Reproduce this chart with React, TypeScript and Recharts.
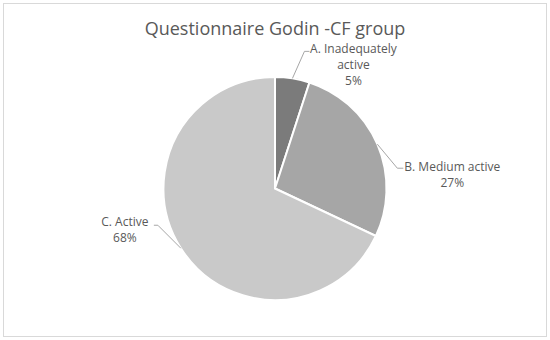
import React from "react";
import { PieChart, Pie, Cell } from "recharts";

const categories = ["A. Inadequately active", "B. Medium active", "C. Active"];
const values = [5, 27, 68];
const colors = ["#7b7b7b", "#a6a6a6", "#c9c9c9"];
const title = "Questionnaire Godin -CF group";

// label text lines (category name wrapped + percentage)
const labelBreaks = [["A. Inadequately", "active"], ["B. Medium active"], ["C. Active"]];

// leader-line/label layout relative to the slice edge point
const labelLayout = [
  { ex: 12, ey: -27, hx: 5, tx: 61, ty: -29, anchor: "middle" },
  { ex: 20, ey: 24, hx: 6, tx: 75, ty: 24, anchor: "middle" },
  { ex: -23, ey: -23, hx: -4, tx: -56, ty: -25, anchor: "middle" },
];

const data = categories.map((name, i) => ({ name, value: values[i] }));

const RAD = Math.PI / 180;

const renderLabel = (props: any) => {
  const { cx, cy, midAngle, outerRadius, percent, index } = props;
  const L = labelLayout[index];
  const sx = cx + outerRadius * Math.cos(-midAngle * RAD);
  const sy = cy + outerRadius * Math.sin(-midAngle * RAD);
  const mx = sx + L.ex;
  const my = sy + L.ey;
  const hx = mx + L.hx;
  const lines = [...labelBreaks[index], `${Math.round(percent * 100)}%`];
  const tx = sx + L.tx;
  const ty0 = sy + L.ty;
  return (
    <g>
      <polyline
        points={`${sx},${sy} ${mx},${my} ${hx},${my}`}
        fill="none"
        stroke="#a6a6a6"
        strokeWidth={1}
      />
      <text
        x={tx}
        y={ty0}
        textAnchor={L.anchor as any}
        fill="#595959"
        fontSize={12}
        fontFamily="'Open Sans', sans-serif"
      >
        {lines.map((ln, k) => (
          <tspan key={k} x={tx} y={ty0 + k * 16} dominantBaseline="middle">
            {ln}
          </tspan>
        ))}
      </text>
    </g>
  );
};

export default function App() {
  return (
    <div style={{ position: "absolute", left: 0, top: 0, width: 550, height: 340, background: "#fff" }}>
      <div
        style={{
          position: "absolute",
          left: 3,
          top: 3,
          width: 542,
          height: 332,
          border: "1px solid #d9d9d9",
        }}
      />
      <div
        style={{
          position: "absolute",
          left: 0,
          top: 17,
          width: 550,
          textAlign: "center",
          fontFamily: "'Open Sans', sans-serif",
          fontSize: 18,
          color: "#595959",
          lineHeight: "22px",
        }}
      >
        {title}
      </div>
      <div style={{ position: "absolute", left: 0, top: 0 }}>
        <PieChart width={550} height={340} margin={{ top: 0, right: 0, bottom: 0, left: 0 }}>
          <Pie
            data={data}
            dataKey="value"
            nameKey="name"
            cx={275}
            cy={188.5}
            outerRadius={111.5}
            startAngle={90}
            endAngle={-270}
            stroke="#ffffff"
            strokeWidth={2}
            label={renderLabel}
            labelLine={false}
            isAnimationActive={false}
          >
            {data.map((d, i) => (
              <Cell key={d.name} fill={colors[i]} />
            ))}
          </Pie>
        </PieChart>
      </div>
    </div>
  );
}
